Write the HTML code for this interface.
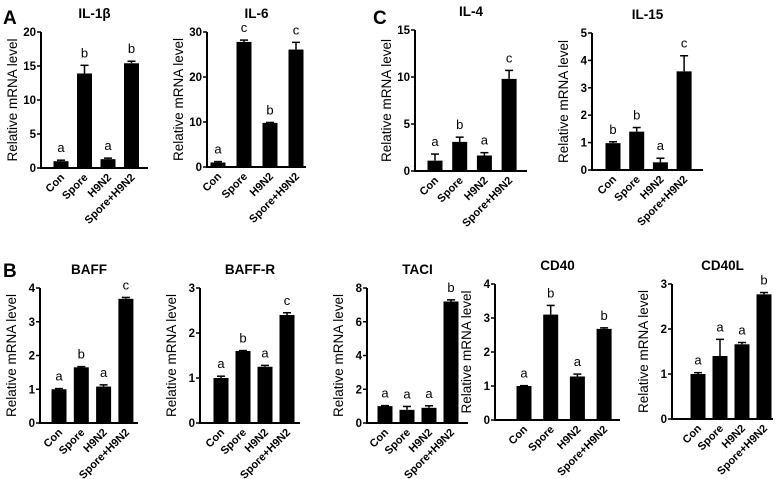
<!DOCTYPE html>
<html><head><meta charset="utf-8"><style>
html,body{margin:0;padding:0;background:#fff}
svg{display:block;font-family:"Liberation Sans",Arial,sans-serif}
</style></head><body>
<svg id="fig" width="784" height="479" viewBox="0 0 784 479" xmlns="http://www.w3.org/2000/svg">
<text x="3" y="24" font-size="19" font-weight="bold">A</text>
<text x="373" y="24" font-size="19" font-weight="bold">C</text>
<text x="3" y="277" font-size="19" font-weight="bold">B</text>
</svg>
<script>
const categories = ["Con","Spore","H9N2","Spore+H9N2"];
const titles = ["IL-1β","IL-6","IL-4","IL-15","BAFF","BAFF-R","TACI","CD40","CD40L"];
const yMax = [20,30,15,5,4,3,8,4,3];
const yStep = [5,10,5,1,1,1,2,1,1];
const valIL1b = [1,13.9,1.3,15.4];   const errIL1b = [0.15,1.2,0.15,0.3];
const valIL6 = [1,27.8,9.8,26.1];    const errIL6 = [0.2,0.4,0.1,1.6];
const valIL4 = [1.1,3.1,1.65,9.8];   const errIL4 = [0.7,0.5,0.3,0.9];
const valIL15 = [0.98,1.4,0.28,3.6]; const errIL15 = [0.05,0.15,0.15,0.57];
const valBAFF = [1,1.65,1.08,3.68];  const errBAFF = [0.02,0.02,0.05,0.04];
const valBAFFR = [1,1.6,1.25,2.4];   const errBAFFR = [0.04,0.01,0.03,0.05];
const valTACI = [1,0.78,0.9,7.2];    const errTACI = [0.03,0.2,0.12,0.1];
const valCD40 = [1,3.1,1.28,2.68];   const errCD40 = [0.01,0.27,0.07,0.03];
const valCD40L = [1,1.4,1.66,2.77];  const errCD40L = [0.03,0.37,0.04,0.04];
const letIL1b=["a","b","a","b"], letIL6=["a","c","b","c"], letIL4=["a","b","a","c"], letIL15=["b","b","a","c"];
const letBAFF=["a","b","a","c"], letBAFFR=["a","b","a","c"], letTACI=["a","a","a","b"], letCD40=["a","b","a","b"], letCD40L=["a","a","a","b"];
const values=[valIL1b,valIL6,valIL4,valIL15,valBAFF,valBAFFR,valTACI,valCD40,valCD40L];
const errors=[errIL1b,errIL6,errIL4,errIL15,errBAFF,errBAFFR,errTACI,errCD40,errCD40L];
const letters=[letIL1b,letIL6,letIL4,letIL15,letBAFF,letBAFFR,letTACI,letCD40,letCD40L];
// layout: axisX, yTop, yZero, first bar center offset, spacing, axis end
const layout=[
 [41,32,168,20,23.5,148],[207,32,167,11,26,306],[415,30,171,20,24.7,527],[592,33,170,21,23.7,703],
 [40,288,423,19,22.3,138],[200,288,423,21,22,300],[367,288,423,18,22,468],[495,284,420,29,26.7,620],[672,284,419,26,22,773]];
const NS="http://www.w3.org/2000/svg", svg=document.getElementById('fig');
function mk(tag,attrs,parent){const e=document.createElementNS(NS,tag);for(const k in attrs)e.setAttribute(k,attrs[k]);(parent||svg).appendChild(e);return e;}
titles.forEach((t,p)=>{
 const [ax,yt,y0,off,sp,xe]=layout[p];
 const g=mk('g',{});
 
 
 const ys=v=>y0-(v/yMax[p])*(y0-yt);
 const xs=i=>ax+off+i*sp;
 const cx=(ax+xe)/2;
 const tt=mk('text',{x:cx,y:yt-14,'font-size':13.5,'font-weight':'bold','text-anchor':'middle'},g);tt.textContent=t;
 
 
 const ya=mk('line',{x1:ax,y1:yt,x2:ax,y2:y0+1,stroke:'#000','stroke-width':2},g);
 
 
 const xa=mk('line',{x1:ax-1,y1:y0,x2:xe,y2:y0,stroke:'#000','stroke-width':2},g);
 
 
 for(let v=0;v<=yMax[p]+1e-9;v+=yStep[p]){
  mk('line',{x1:ax-4,y1:ys(v),x2:ax,y2:ys(v),stroke:'#000','stroke-width':1.5},g);
  const tl=mk('text',{x:ax-5,y:ys(v)+4,'font-size':11.5,'font-weight':'bold','text-anchor':'end'},g);tl.textContent=v;
  
  
 }
 const yl=mk('text',{x:0,y:0,'font-size':13.5,'text-anchor':'middle',transform:`translate(${ax-24},${(yt+y0)/2}) rotate(-90)`},g);yl.textContent='Relative mRNA level';
 
 
 categories.forEach((c,i)=>{
  const x=xs(i),v=values[p][i],e=errors[p][i],w=15;
  const b=mk('rect',{x:x-w/2,y:ys(v),width:w,height:y0-ys(v),fill:'#000'},g);
  
  
  mk('line',{x1:x,y1:ys(v),x2:x,y2:ys(v+e),stroke:'#000','stroke-width':1.5},g);
  mk('line',{x1:x-4,y1:ys(v+e),x2:x+4,y2:ys(v+e),stroke:'#000','stroke-width':1.5},g);
  const lt=mk('text',{x:x,y:ys(v+e)-8,'font-size':13,'text-anchor':'middle'},g);lt.textContent=letters[p][i];
  
  
  const cl=mk('text',{x:0,y:0,'font-size':11,'font-weight':'bold','text-anchor':'end',transform:`translate(${x+4},${y0+10}) rotate(-45)`},g);cl.textContent=c;
  
  
 });
});
</script>
</body></html>
